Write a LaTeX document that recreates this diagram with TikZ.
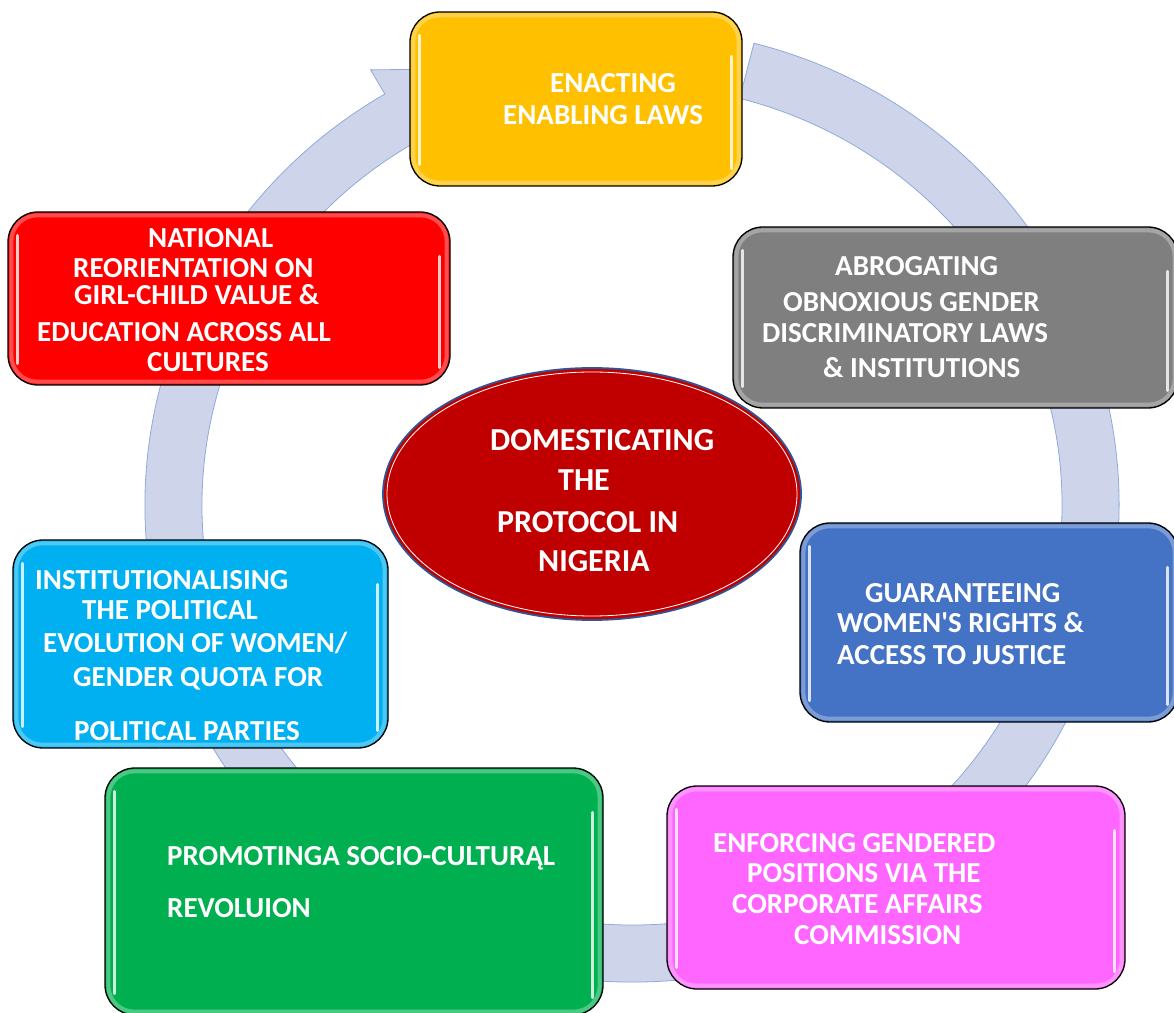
\documentclass[tikz,border=0pt]{standalone}
\usepackage{fontspec}
\setmainfont{Carlito}
\usetikzlibrary{calc,shapes.geometric}

\definecolor{ringfill}{RGB}{206,212,234}
\definecolor{ringline}{RGB}{143,170,220}
\definecolor{enactcol}{RGB}{255,192,0}
\definecolor{reorcol}{RGB}{255,0,0}
\definecolor{abrocol}{RGB}{127,127,127}
\definecolor{guarcol}{RGB}{68,114,196}
\definecolor{instcol}{RGB}{0,176,240}
\definecolor{promcol}{RGB}{0,176,80}
\definecolor{enfocol}{RGB}{255,102,255}
\definecolor{hubred}{RGB}{192,0,0}
\definecolor{hubblue}{RGB}{47,85,151}

% glossy edges on a card
\newcommand\shine[1]{%
  \draw[white, opacity=0.3, line width=4pt, rounded corners=26pt]
    ($(#1.north west)+(4,-4)$) rectangle ($(#1.south east)+(-4,4)$);
  \draw[white, line width=3pt, opacity=0.8, line cap=round]
    ($(#1.north west)+(10,-24)$) -- ($(#1.south west)+(10,22)$);
  \draw[white, line width=3pt, opacity=0.8, line cap=round]
    ($(#1.north east)+(-11,-45)$) -- ($(#1.south east)+(-11,18)$);
}

\begin{document}
\begin{tikzpicture}[x=1pt, y=1pt,
  card/.style={draw=black, line width=1.3pt, rounded corners=30pt, inner sep=0pt},
  hub/.style={ellipse, fill=hubred, draw=hubblue, line width=1.8pt, inner sep=0pt},
  ring/.style={fill=ringfill, draw=ringline, line width=0.8pt},
  lbl/.style={text=white, font=\fontsize{29}{34}\selectfont\bfseries, anchor=base west, inner sep=0pt},
  big/.style={lbl, font=\fontsize{32}{38}\selectfont\bfseries}]

  \useasboundingbox (0,0) rectangle (1174,1012);

  % Circular arrow behind the cards
  \coordinate (C) at (632,507);
  \draw[ring] ($(C)+(75.5:487 and 477)$)
    arc[start angle=75.5, end angle=-239.5, x radius=487, y radius=477]
    -- ($(C)+(120.5:515 and 505)$) -- ($(C)+(103:458.5 and 448.5)$)
    -- ($(C)+(120.5:402 and 392)$) -- ($(C)+(120.5:430 and 420)$)
    arc[start angle=-239.5, end angle=75.5, x radius=430, y radius=420]
    -- cycle;

  % Cards
  \node[card, fill=enactcol, minimum width=332pt, minimum height=174pt] (enact) at (576,913) {};
  \node[card, fill=reorcol, minimum width=442pt, minimum height=173pt] (reor) at (229,713.5) {};
  \node[card, fill=abrocol, minimum width=445pt, minimum height=181pt] (abro) at (955.5,694.5) {};
  \node[card, fill=guarcol, minimum width=378pt, minimum height=199pt] (guar) at (989,389.5) {};
  \node[card, fill=instcol, minimum width=375pt, minimum height=208pt] (inst) at (200.5,368) {};
  \node[card, fill=promcol, minimum width=498pt, minimum height=247pt] (prom) at (354,120.5) {};
  \node[card, fill=enfocol, minimum width=458pt, minimum height=203pt] (enfo) at (896,124.5) {};
  \foreach \c in {enact,reor,abro,guar,inst,prom,enfo} {\shine{\c}}

  % Centre ellipse
  \node[hub, minimum width=418pt, minimum height=252pt] (hub) at (592,518) {};
  \draw[white, line width=0.8pt] (hub.center) ellipse [x radius=205, y radius=122];

  % Labels
  \foreach \x/\y/\t [count=\i] in {490/561/DOMESTICATING, 558/521/THE,
      497/479/PROTOCOL IN, 538/440/NIGERIA}
    \node[big] (hub\i) at (\x,\y) {\t};

  \foreach \x/\y/\t [count=\i] in {550/919/ENACTING, 503/887/ENABLING LAWS}
    \node[lbl] (enact\i) at (\x,\y) {\t};

  \foreach \x/\y/\t [count=\i] in {148/764/NATIONAL, 73/734/REORIENTATION ON,
      74/707/{GIRL-CHILD VALUE \&}, 37/670/EDUCATION ACROSS ALL, 147/640/CULTURES}
    \node[lbl] (reor\i) at (\x,\y) {\t};

  \foreach \x/\y/\t [count=\i] in {835/736/ABROGATING, 783/700/OBNOXIOUS GENDER,
      762/669/DISCRIMINATORY LAWS, 823/634/{\& INSTITUTIONS}}
    \node[lbl] (abro\i) at (\x,\y) {\t};

  \foreach \x/\y/\t [count=\i] in {865/409/GUARANTEEING,
      837/379/{WOMEN\textquotesingle S RIGHTS \&}, 837/347/ACCESS TO JUSTICE}
    \node[lbl] (guar\i) at (\x,\y) {\t};

  \foreach \x/\y/\t [count=\i] in {35/422/INSTITUTIONALISING, 82/392/THE POLITICAL,
      43/359/{EVOLUTION OF WOMEN/}, 73/325/GENDER QUOTA FOR, 74/272/POLITICAL PARTIES}
    \node[lbl] (inst\i) at (\x,\y) {\t};

  \foreach \x/\y/\t [count=\i] in {167/147/PROMOTINGA SOCIO-CULTURĄL, 167/95/REVOLUION}
    \node[lbl] (prom\i) at (\x,\y) {\t};

  \foreach \x/\y/\t [count=\i] in {713/160/ENFORCING GENDERED, 747/130/POSITIONS VIA THE,
      732/99/CORPORATE AFFAIRS, 794/68/COMMISSION}
    \node[lbl] (enfo\i) at (\x,\y) {\t};

\end{tikzpicture}
\end{document}
